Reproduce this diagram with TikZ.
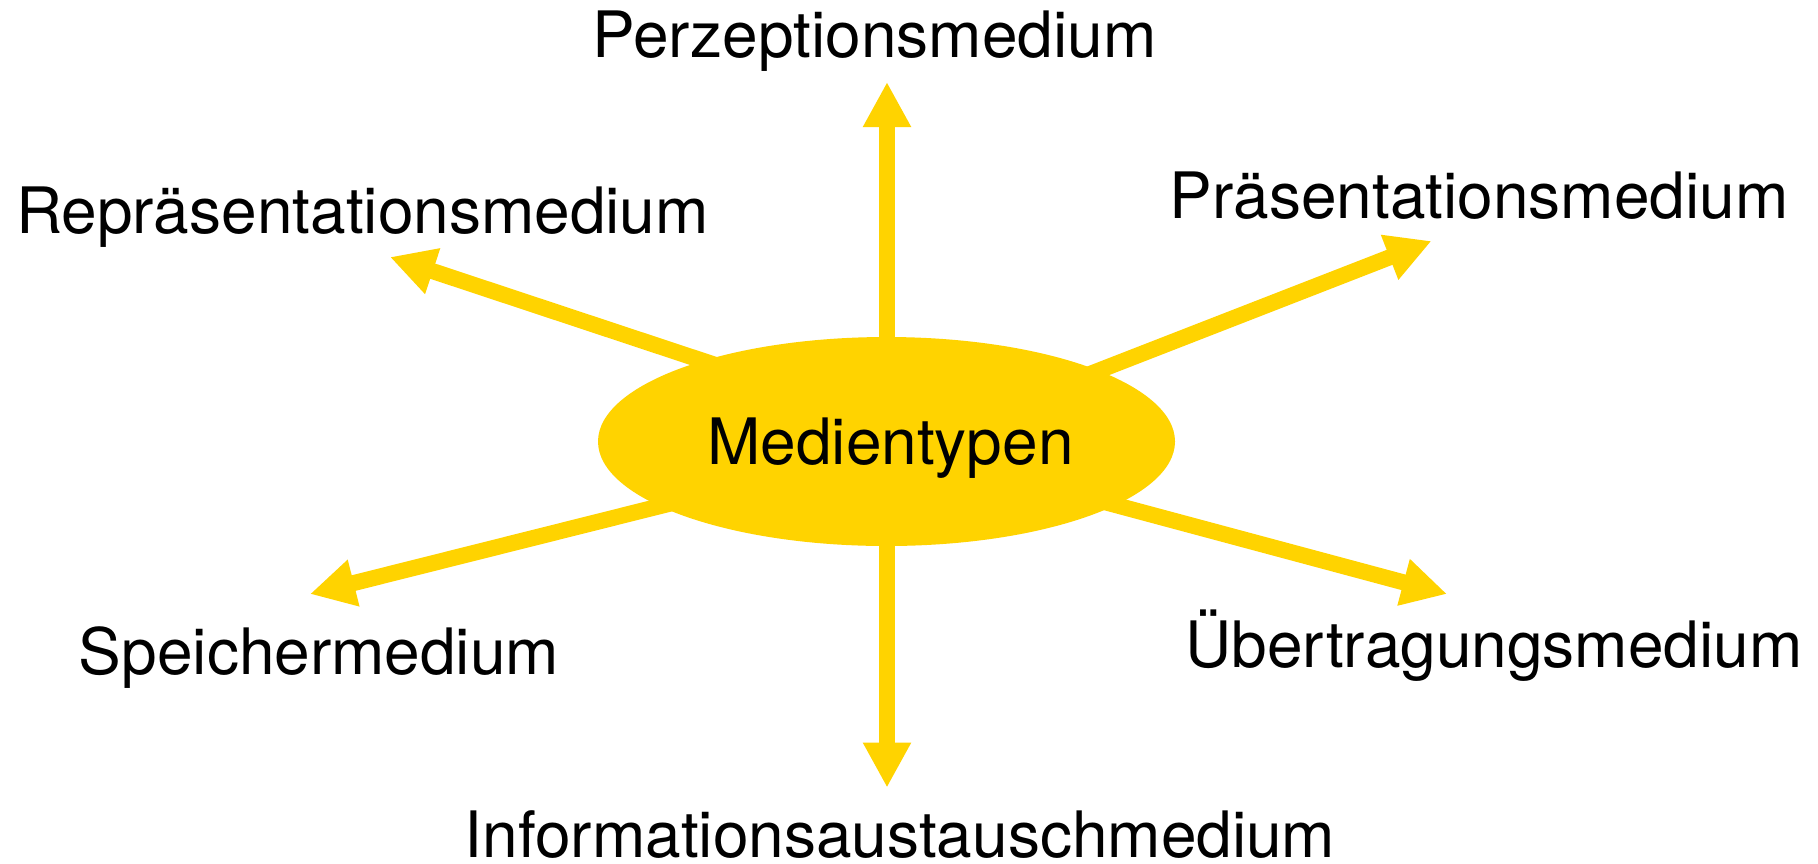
\documentclass[tikz,border=0pt]{standalone}
\usepackage{fontspec}
\setmainfont{TeX Gyre Heros}
\usetikzlibrary{arrows.meta,shapes.geometric,backgrounds}
\definecolor{medgold}{RGB}{255,211,0}
\begin{document}
\begin{tikzpicture}[x=0.5pt,y=-0.5pt,
  lbl/.style={font=\fontsize{32pt}{38pt}\selectfont, inner sep=0pt, anchor=base, text=black},
  conn/.style={draw=medgold, line width=8pt, -{Triangle[length=22.5pt,width=22.5pt]}}]
\useasboundingbox (0,0) rectangle (1818,863);

% centre
\node[ellipse, fill=medgold, minimum width=288.5pt, minimum height=104.5pt,
      inner sep=0pt, text height=23pt, text depth=0pt,
      font=\fontsize{32pt}{38pt}\selectfont] (m) at (886.5,441.5) {\hspace*{4pt}Medientypen};

% labels
\node[lbl] (perz) at (874.5,57)  {Perzeptionsmedium};
\node[lbl] (repr) at (362.5,233) {Repräsentationsmedium};
\node[lbl] (praes) at (1479,218) {Präsentationsmedium};
\node[lbl] (speich) at (319,674) {Speichermedium};
\node[lbl] (uebert) at (1494,667) {Übertragungsmedium};
\node[lbl] (info) at (900,857) {Informationsaustauschmedium};

% arrow start points (inside the ellipse) and tips
\coordinate (s1) at (887,380);   \coordinate (t1) at (887,82);
\coordinate (s2) at (800,393);   \coordinate (t2) at (390,257);
\coordinate (s3) at (1000,409);  \coordinate (t3) at (1431.5,241);
\coordinate (s4) at (780,476);   \coordinate (t4) at (310,594);
\coordinate (s5) at (1000,474);  \coordinate (t5) at (1447,594);
\coordinate (s6) at (887,500);   \coordinate (t6) at (887,787.6);

\begin{pgfonlayer}{background}
\draw[conn] (s1) -- (t1);
\draw[conn] (s2) -- (t2);
\draw[conn] (s3) -- (t3);
\draw[conn] (s4) -- (t4);
\draw[conn] (s5) -- (t5);
\draw[conn] (s6) -- (t6);
\end{pgfonlayer}
\end{tikzpicture}
\end{document}
